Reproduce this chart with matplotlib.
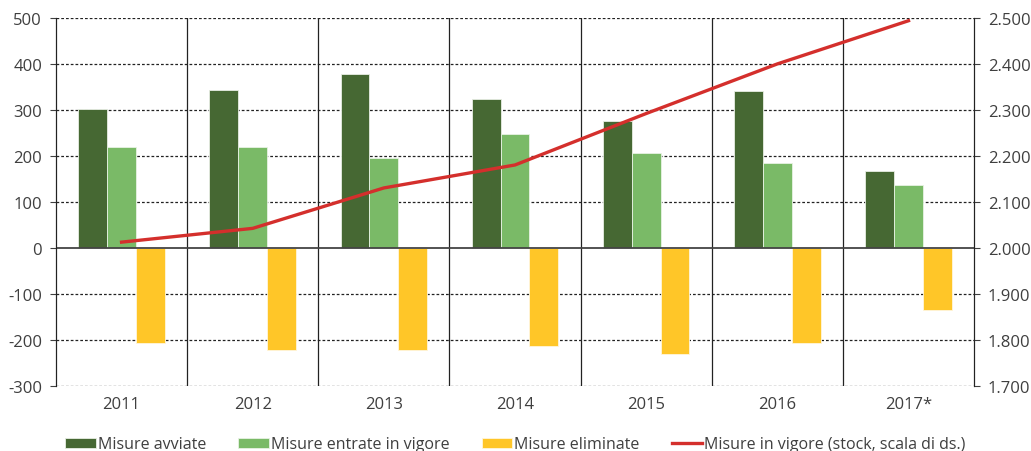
import matplotlib.pyplot as plt
import numpy as np

plt.rcParams['font.family'] = ['Open Sans', 'DejaVu Sans']
plt.rcParams['axes.unicode_minus'] = False

anni = ['2011', '2012', '2013', '2014', '2015', '2016', '2017*']
avviate = [303, 344, 378, 325, 277, 343, 168]
entrate = [221, 220, 196, 249, 207, 186, 138]
eliminate = [-207, -221, -221, -213, -230, -207, -134]
stock = [2013, 2043, 2131, 2181, 2293, 2401, 2495]

c_dark = '#466833'
c_light = '#7aba67'
c_yellow = '#ffc628'
c_red = '#d42f2c'
c_text = '#3f3f3f'

fig = plt.figure(figsize=(10.31, 4.52), dpi=100)
ax = fig.add_axes([0.0543, 0.144, 0.8905, 0.813])
ax2 = ax.twinx()

x = np.arange(len(anni))
w = 0.22
ax.bar(x - w, avviate, w, color=c_dark, edgecolor='#e8eee4', linewidth=0.6, label='Misure avviate', zorder=3)
ax.bar(x, entrate, w, color=c_light, edgecolor='#e8f2e4', linewidth=0.6, label='Misure entrate in vigore', zorder=3)
ax.bar(x + w, eliminate, w, color=c_yellow, edgecolor='#fff6dd', linewidth=0.6, label='Misure eliminate', zorder=3)

ax2.plot(x, stock, color=c_red, lw=2.4, label='Misure in vigore (stock, scala di ds.)', zorder=4)

ax.set_xlim(-0.5, len(anni) - 0.5)
ax.set_ylim(-300, 500)
ax2.set_ylim(1700, 2500)
ax.set_yticks(range(-300, 501, 100))
ax2.set_yticks(range(1700, 2501, 100))
ax2.set_yticklabels([f'{v // 1000}.{v % 1000:03d}' for v in range(1700, 2501, 100)])

for v in range(-300, 501, 100):
    if v != 0:
        ax.axhline(v, color='#222222', lw=0.9, ls=(0, (2.2, 1.6)), zorder=1)
ax.axhline(0, color='#444444', lw=1.3, zorder=3.5)
for b in np.arange(0.5, len(anni) - 1, 1):
    ax.axvline(b, color='#222222', lw=0.9, zorder=1)

ax.set_xticks(x)
ax.set_xticklabels(anni)
ax.tick_params(axis='x', length=0, pad=7, labelsize=12, colors=c_text)
ax.tick_params(axis='y', length=4, width=0.8, labelsize=12, colors=c_text, pad=6)
ax2.tick_params(axis='y', length=4, width=0.8, labelsize=12, colors=c_text, pad=6)

for a in (ax, ax2):
    a.spines['top'].set_visible(False)
    a.spines['bottom'].set_visible(False)
    a.spines['left'].set_color('#222222')
    a.spines['right'].set_color('#222222')

h1, l1 = ax.get_legend_handles_labels()
h2, l2 = ax2.get_legend_handles_labels()
fig.legend(h1 + h2, l1 + l2, loc='lower center', bbox_to_anchor=(0.5, -0.035), ncol=4,
           frameon=False, fontsize=11.5, handlelength=1.9, handleheight=0.6,
           handletextpad=0.15, columnspacing=2.0, labelcolor=c_text)

fig.savefig('out.png', dpi=100)
